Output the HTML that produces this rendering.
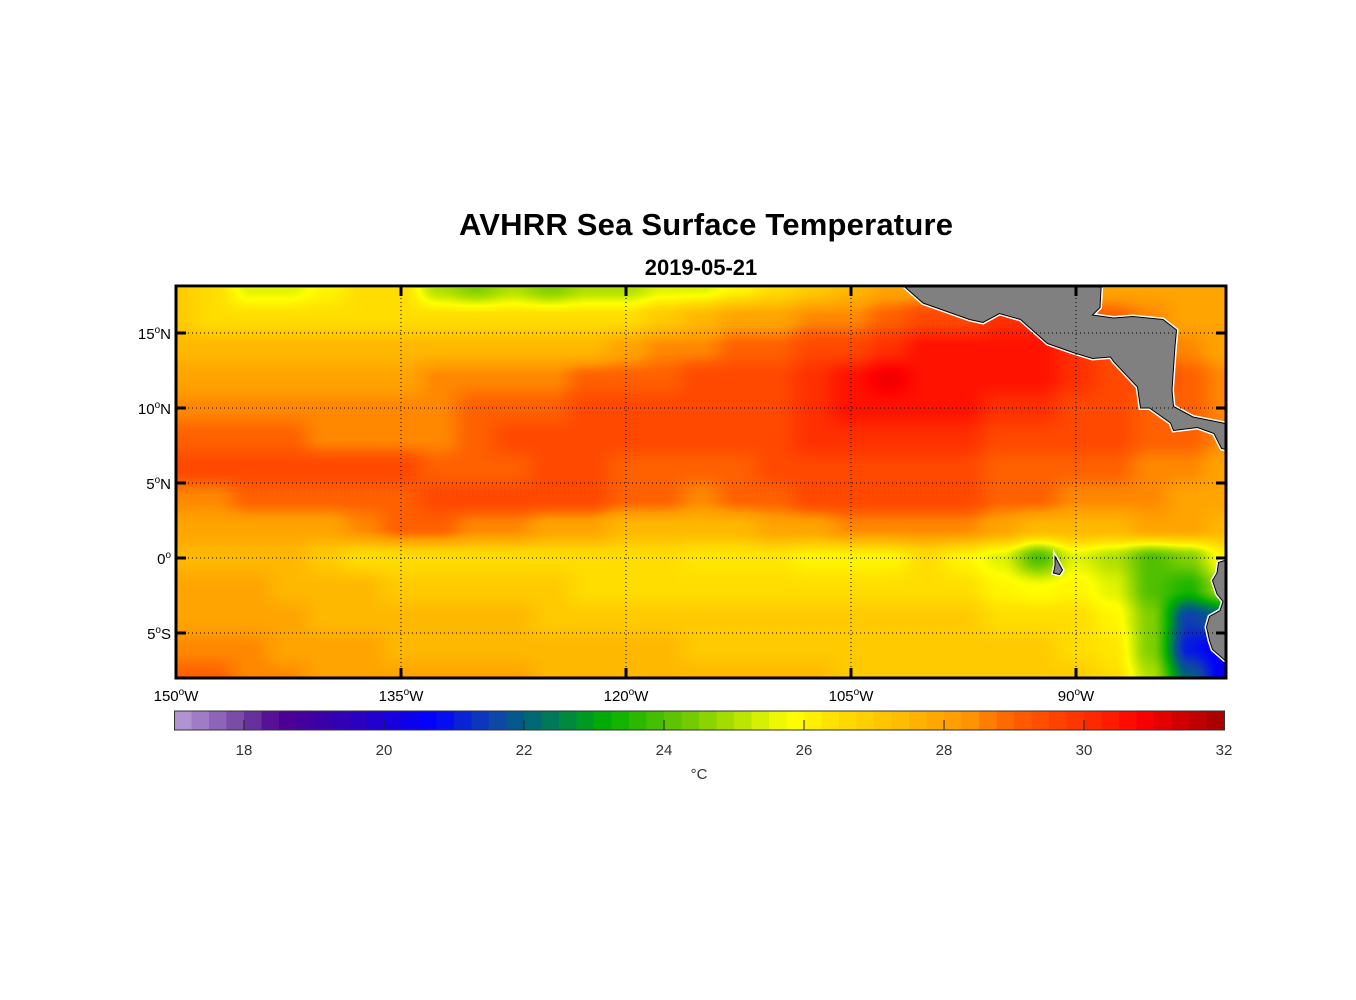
<!DOCTYPE html>
<html><head><meta charset="utf-8"><style>
html,body{margin:0;padding:0;background:#fff;width:1356px;height:1000px;overflow:hidden;font-family:"Liberation Sans",sans-serif;}
#hm{position:absolute;left:176px;top:288px;}
#ov{position:absolute;left:0;top:0;}
</style></head><body>
<canvas id="hm" width="1051" height="390"></canvas>
<svg id="ov" width="1356" height="1000" xmlns="http://www.w3.org/2000/svg">
<g id="land"></g>
<text x="706" y="235" text-anchor="middle" font-size="31" font-weight="bold" font-family="Liberation Sans, sans-serif" textLength="494">AVHRR Sea Surface Temperature</text>
<text x="701" y="275" text-anchor="middle" font-size="22" font-weight="bold" font-family="Liberation Sans, sans-serif">2019-05-21</text>
<g id="grid"></g>
<g id="axes"></g>
<g id="cbar"></g>
</svg>
<script>
const lons=[-150,-147.5,-145,-142.5,-140,-137.5,-135,-132.5,-130,-127.5,-125,-122.5,-120,-117.5,-115,-112.5,-110,-107.5,-105,-102.5,-100,-97.5,-95,-92.5,-90,-87.5,-85,-82.5,-80];
const lats=[18,16,14,12,10,8,6,4,2,0,-2,-4,-6,-8];
const sstRow18=[27,26.5,25.5,25.5,26,26.5,26.5,25,24.5,25,24.5,25,25,25.5,25.5,26,26.5,27,27.5,28,28,28,28,28,28,28,28,28,28];
const sstRow16=[27,26.5,26.5,26.5,26.5,26.5,26.5,26.5,26.5,26.5,26.5,26.5,26.5,27,27.5,28,28,28.5,28.5,29,29.5,29.5,30,30,29.5,29,28.5,28,28];
const sstRow14=[27.5,27.5,27.5,27.5,27.5,27.5,27.5,27.5,27.5,27.5,27.5,27.5,28,28.5,28.5,29,29,29.5,29.5,30,30.5,30.5,30.5,30.5,30,29.5,29,28.5,28];
const sstRow12=[28,28,28,28,28,28,28,28.5,28.5,28.5,28.5,29,29,29,29.5,29.5,29.5,30,30.5,31,30.5,30.5,30.5,30.5,30,29.5,29.5,29,28.5];
const sstRow10=[28.5,28.5,28.5,28.5,28.5,28.5,28.5,28.5,29,29,29,29.5,29.5,29.5,29.5,29.5,29.5,30,30.5,30.5,30.5,30.5,30,30,29.5,29.5,29,29,28.5];
const sstRow8=[29,29,29,29,28.5,28.5,28.5,28.5,29,29.5,29.5,29.5,29.5,29.5,29.5,29.5,29.5,30,30,30,30,30,29.5,29.5,29.5,29.5,29,29,28.5];
const sstRow6=[29.5,29.5,29.5,29.5,29.5,29.5,29.5,29,29,29,29.5,29.5,29,29,29,29,29.5,29.5,29.5,29.5,29.5,29.5,29,29,29,29,28.5,28.5,28];
const sstRow4=[28.5,28.5,29,29,29,29,29,29.5,29.5,29.5,29.5,29.5,29,29,28.5,29,29,29.5,29.5,29.5,29.5,29.5,29,29,28.5,28.5,28.5,28,28];
const sstRow2=[28,28,28,28,28,28.5,29,29,28.5,28.5,28,28,27.5,27.5,27.5,27.5,28,28,28.5,28.5,28.5,28.5,28,27.5,27.5,27.5,28,28,27.5];
const sstRow0=[27.5,27.5,27.5,27.5,27,26.5,26.5,26.5,26.5,26.5,26.5,26.5,26.5,26.5,26.3,26.3,26.3,26,26,26,26.5,26,25.5,24,25.5,25,24,24.5,26];
const sstRowS2=[28,28,28,27.5,27.5,27.5,27,27,27,27,27,26.5,26.5,26.5,26.5,26.5,26.5,26.5,26.5,26.5,26.5,26.5,26,25.8,26,25.5,24,23.5,25];
const sstRowS4=[28,28,28,28,27.5,27.5,27.5,27.5,27.5,27.5,27,27,27,27,27,27,27,27,27,27,27,27,26.5,26.5,26.5,26,24.5,21.5,22];
const sstRowS6=[28.5,28.5,28.5,28,28,28,27.5,27.5,27.5,27.5,27.5,27.5,27.5,27.5,27,27,27,27,27,27,27,27,27,27,26.5,26.3,24.5,21,20.5];
const sstRowS8=[29,29,28.5,28.5,28,28,28,28,28,28,27.5,27.5,27.5,27.5,27.5,27.5,27.5,27.5,27,27,27,27,27,27,27,26.5,25,22,20.5];
const sst=[sstRow18,sstRow16,sstRow14,sstRow12,sstRow10,sstRow8,sstRow6,sstRow4,sstRow2,sstRow0,sstRowS2,sstRowS4,sstRowS6,sstRowS8];
const lonTicks=[-150,-135,-120,-105,-90];
const latTicks=[15,10,5,0,-5];
const cbTicks=[18,20,22,24,26,28,30,32];
const cmapT=[17,17.5,18,18.5,19.5,20.7,21.5,22,23.2,24,25,25.8,26.5,27.5,28.3,29,30,30.8,32];
const cmapC=["#b8a0d8","#9870c0","#7040a0","#500090","#3000b8","#0000ff","#1040b0","#006080","#00b000","#50c000","#b0e000","#ffff00","#ffdd00","#ffb800","#ff9800","#ff6000","#ff3000","#ff0000","#a00000"];

const X0=176,PX=15,Y0=558;
const xOf=lon=>X0+(lon+150)*PX;
const yOf=lat=>Y0-lat*PX;
const cbX=v=>174+(v-17)*70;
function hex(c){return [parseInt(c.slice(1,3),16),parseInt(c.slice(3,5),16),parseInt(c.slice(5,7),16)];}
const cmapRGB=cmapC.map(hex);
function color(v){
  if(v<=cmapT[0])return cmapRGB[0];
  for(let i=1;i<cmapT.length;i++){if(v<=cmapT[i]){const f=(v-cmapT[i-1])/(cmapT[i]-cmapT[i-1]);const a=cmapRGB[i-1],b=cmapRGB[i];return [a[0]+(b[0]-a[0])*f,a[1]+(b[1]-a[1])*f,a[2]+(b[2]-a[2])*f];}}
  return cmapRGB[cmapRGB.length-1];
}
function interp(lon,lat){
  let fi=(lon-lons[0])/(lons[1]-lons[0]);let fj=(lats[0]-lat)/(lats[0]-lats[1]);
  fi=Math.max(0,Math.min(lons.length-1.0001,fi));fj=Math.max(0,Math.min(lats.length-1.0001,fj));
  const i=Math.floor(fi),j=Math.floor(fj),a=fi-i,b=fj-j;
  const s=t=>t*t*(3-2*t);const A=s(a),B=s(b);
  return sst[j][i]*(1-A)*(1-B)+sst[j][i+1]*A*(1-B)+sst[j+1][i]*(1-A)*B+sst[j+1][i+1]*A*B;
}
const cv=document.getElementById('hm');const ctx=cv.getContext('2d');
const img=ctx.createImageData(cv.width,cv.height);
for(let py=0;py<cv.height;py++){for(let px=0;px<cv.width;px++){
  const lon=-150+(px+0.5)/PX,lat=(Y0-(288+py+0.5))/PX;
  const c=color(interp(lon,lat));const k=(py*cv.width+px)*4;
  img.data[k]=c[0];img.data[k+1]=c[1];img.data[k+2]=c[2];img.data[k+3]=255;}}
ctx.putImageData(img,0,0);

const NS="http://www.w3.org/2000/svg";
function mk(tag,attrs,parent){const e=document.createElementNS(NS,tag);for(const k in attrs)e.setAttribute(k,attrs[k]);parent.appendChild(e);return e;}
const land=document.getElementById('land');
const centralAmerica=[[-101.9,18.5],[-100.2,17.0],[-97.1,15.9],[-96.2,15.7],[-95.1,16.3],[-93.7,15.9],[-91.9,14.3],[-90.2,13.7],[-88.9,13.3],[-87.7,13.4],[-87.5,13.1],[-85.9,11.4],[-85.7,10.0],[-85.1,10.0],[-83.7,9.0],[-83.5,8.5],[-81.9,8.7],[-80.8,8.3],[-80.3,7.3],[-79.9,7.2],[-79.9,8.9],[-80.2,9.0],[-82.2,9.4],[-83.5,10.1],[-83.6,11.2],[-83.4,14.1],[-83.3,15.2],[-84.2,15.9],[-86.2,16.1],[-87.5,16.0],[-88.9,16.2],[-88.4,16.7],[-88.3,18.5]];
const southAmerica=[[-79.9,-0.1],[-80.5,-0.3],[-80.6,-1.0],[-80.9,-1.5],[-80.6,-2.4],[-80.2,-2.9],[-80.4,-3.5],[-81.1,-3.9],[-81.3,-4.6],[-81.1,-5.5],[-80.9,-6.1],[-80.1,-6.8],[-79.9,-6.9]];
const galapagos=[[-91.4,0.1],[-90.9,-0.8],[-91.1,-1.1],[-91.5,-1.0],[-91.4,-0.5]];
[["central-america",centralAmerica],["south-america",southAmerica],["galapagos-island",galapagos]].forEach(([n,p])=>{
  const pts=p.map(q=>xOf(q[0]).toFixed(1)+","+yOf(q[1]).toFixed(1)).join(" ");
  const w=mk('polygon',{points:pts,fill:'#fff',stroke:'#fff','stroke-width':4},land);
  
  
  const e=mk('polygon',{points:pts,fill:'#808080',stroke:'#000','stroke-width':1},land);
  
  
});
mk('rect',{x:0,y:280,width:176,height:410,fill:'#fff'},land);
mk('rect',{x:1227,y:280,width:129,height:410,fill:'#fff'},land);
mk('rect',{x:170,y:279,width:1070,height:7,fill:'#fff'},land);

const grid=document.getElementById('grid');
lonTicks.slice(1).forEach(l=>{const e=mk('line',{x1:xOf(l),x2:xOf(l),y1:286,y2:678,stroke:'#000','stroke-width':1,'stroke-dasharray':'1,3'},grid);
  
  });
latTicks.forEach(l=>{const e=mk('line',{x1:176,x2:1226,y1:yOf(l),y2:yOf(l),stroke:'#000','stroke-width':1,'stroke-dasharray':'1,3'},grid);
  
  });

const axes=document.getElementById('axes');
const fr=mk('rect',{x:176,y:286,width:1050,height:392,fill:'none',stroke:'#000','stroke-width':3},axes);


lonTicks.forEach(l=>{const x=xOf(l);
  mk('line',{x1:x,x2:x,y1:286,y2:296,stroke:'#000','stroke-width':3},axes);
  mk('line',{x1:x,x2:x,y1:668,y2:678,stroke:'#000','stroke-width':3},axes);
  const t=mk('text',{x:x,y:701,'text-anchor':'middle','font-size':15,'font-family':'Liberation Sans, sans-serif'},axes);
  
  
  t.innerHTML=(-l)+'<tspan dy="-6" font-size="10">o</tspan><tspan dy="6">W</tspan>';});
latTicks.forEach(l=>{const y=yOf(l);
  mk('line',{x1:176,x2:186,y1:y,y2:y,stroke:'#000','stroke-width':3},axes);
  mk('line',{x1:1216,x2:1226,y1:y,y2:y,stroke:'#000','stroke-width':3},axes);
  const t=mk('text',{x:171,y:y+6,'text-anchor':'end','font-size':15,'font-family':'Liberation Sans, sans-serif'},axes);
  
  
  const h=l>0?'N':(l<0?'S':'');
  t.innerHTML=Math.abs(l)+'<tspan dy="-6" font-size="10">o</tspan><tspan dy="6">'+h+'</tspan>';});

const cb=document.getElementById('cbar');
for(let v=17;v<32;v+=0.25){const c=color(v+0.125);
  const r=mk('rect',{x:cbX(v).toFixed(1),y:711,width:(17.6).toFixed(1),height:19,fill:'rgb('+c.map(Math.round).join(',')+')'},cb);
  
  }
mk('rect',{x:174.5,y:711,width:1050,height:19,fill:'none',stroke:'#333','stroke-width':1},cb);
cbTicks.forEach(v=>{const x=cbX(v);
  if(v<32)mk('line',{x1:x,x2:x,y1:720,y2:730,stroke:'#222','stroke-width':1},cb);
  const t=mk('text',{x:x,y:755,'text-anchor':'middle','font-size':15,fill:'#333','font-family':'Liberation Sans, sans-serif'},cb);
  
  
  t.textContent=v;});
const u=mk('text',{x:699,y:779,'text-anchor':'middle','font-size':15,fill:'#333','font-family':'Liberation Sans, sans-serif'},cb);


u.textContent='°C';
</script>
</body></html>
